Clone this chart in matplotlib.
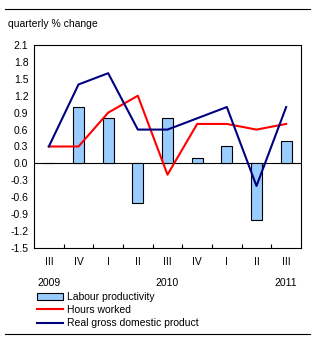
import numpy as np
import matplotlib
matplotlib.use('Agg')
import matplotlib.pyplot as plt

plt.rcParams['font.family'] = ['Liberation Sans', 'DejaVu Sans']
plt.rcParams['font.size'] = 7.5

quarters = ['III', 'IV', 'I', 'II', 'III', 'IV', 'I', 'II', 'III']
years = ['2009', '2010', '2011']
productivity = [0.0, 1.0, 0.8, -0.7, 0.8, 0.1, 0.3, -1.0, 0.4]
hours = [0.3, 0.3, 0.9, 1.2, -0.2, 0.7, 0.7, 0.6, 0.7]
gdp = [0.3, 1.4, 1.6, 0.6, 0.6, 0.8, 1.0, -0.4, 1.0]

W, H = 317, 344
fig = plt.figure(figsize=(W / 100, H / 100), dpi=100)
ax = fig.add_axes([34 / W, 1 - 248 / H, 267 / W, 203 / H])

x = np.arange(len(quarters))
bars = ax.bar(x, productivity, width=0.38, color='#99CCFF', edgecolor='black',
              linewidth=0.8, label='Labour productivity', zorder=2)
l1, = ax.plot(x, hours, color='#FF0000', lw=1.5, label='Hours worked', zorder=3)
l2, = ax.plot(x, gdp, color='#000080', lw=1.5, label='Real gross domestic product', zorder=4)
ax.axhline(0, color='black', lw=0.8, zorder=1)

ax.set_xlim(-0.5, len(quarters) - 0.5)
ax.set_ylim(-1.5, 2.1)
yt = np.arange(-1.5, 2.11, 0.3)
ax.set_yticks(yt)
ax.set_yticklabels([f'{v:.1f}' for v in yt])
ax.tick_params(axis='y', length=0, pad=4)

ax.set_xticks(x[:-1] + 0.5)
ax.set_xticklabels([])
ax.tick_params(axis='x', direction='in', length=3, width=0.8)
for i, q in enumerate(quarters):
    ax.text(i, -0.07, q, transform=ax.get_xaxis_transform(), ha='center', va='center')
for i, yr in zip([0, 4, 8], years):
    ax.text(i, -0.17, yr, transform=ax.get_xaxis_transform(), ha='center', va='center')

for s in ax.spines.values():
    s.set_linewidth(0.8)

fig.text(8 / W, 1 - 24 / H, 'quarterly % change', ha='left', va='center')
fig.add_artist(plt.Line2D([5 / W, 310 / W], [1 - 9 / H] * 2, color='black', lw=0.8))
fig.add_artist(plt.Line2D([5 / W, 310 / W], [1 - 334 / H] * 2, color='black', lw=0.8))

fig.legend(handles=[bars, l1, l2], loc='upper left', bbox_to_anchor=(37 / W, 1 - 292 / H),
           frameon=False, handlelength=2.5, handleheight=0.7, handletextpad=0.4,
           labelspacing=0.3, borderaxespad=0, borderpad=0)

fig.savefig('out.png', dpi=100)
